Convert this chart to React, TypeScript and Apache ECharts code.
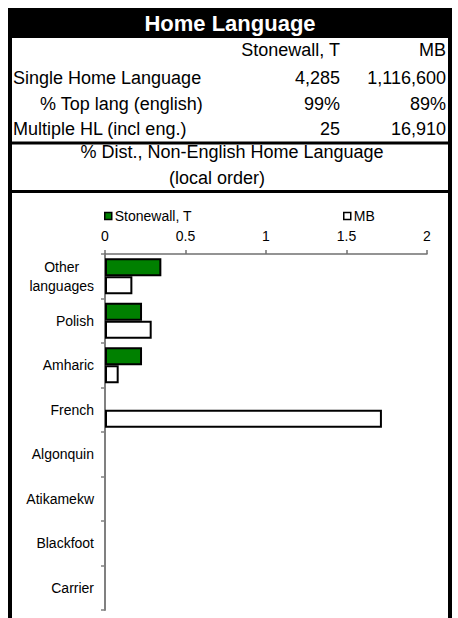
import React, { useEffect, useRef } from "react";
import * as echarts from "echarts";

const FONT = "'Liberation Sans', Arial, sans-serif";

const categories = [
  "Other languages",
  "Polish",
  "Amharic",
  "French",
  "Algonquin",
  "Atikamekw",
  "Blackfoot",
  "Carrier",
];
const stonewallValues = [0.35, 0.23, 0.23, 0, 0, 0, 0, 0];
const mbValues = [0.17, 0.29, 0.085, 1.72, 0, 0, 0, 0];
const xTicks = [0, 0.5, 1, 1.5, 2];

const seriesNames = ["Stonewall, T", "MB"];
const tableTitle = "Home Language";
const rowLabels = ["Single Home Language", "% Top lang (english)", "Multiple HL (incl eng.)"];
const stonewallStats = ["4,285", "99%", "25"];
const mbStats = ["1,116,600", "89%", "16,910"];
const chartTitleLines = ["% Dist., Non-English Home Language", "(local order)"];

export default function App() {
  const ref = useRef<HTMLDivElement>(null);

  useEffect(() => {
    if (!ref.current) return;
    const chart = echarts.init(ref.current, null, { renderer: "svg" });

    const rowY = [78, 104, 129];
    const rowX = [13, 40, 13];
    const graphics: any[] = [
      { type: "rect", shape: { x: 8, y: 8, width: 444, height: 30 }, style: { fill: "#000" }, silent: true },
      { type: "rect", shape: { x: 8, y: 8, width: 4, height: 610 }, style: { fill: "#000" }, silent: true },
      { type: "rect", shape: { x: 448, y: 8, width: 4, height: 610 }, style: { fill: "#000" }, silent: true },
      { type: "rect", shape: { x: 8, y: 141.5, width: 444, height: 3 }, style: { fill: "#000" }, silent: true },
      { type: "rect", shape: { x: 8, y: 190, width: 444, height: 3 }, style: { fill: "#000" }, silent: true },
      {
        type: "text",
        x: 230,
        y: 23,
        style: { text: tableTitle, fill: "#fff", font: `bold 22px ${FONT}`, textAlign: "center", textVerticalAlign: "middle" },
      },
      {
        type: "text",
        x: 340,
        y: 50,
        style: { text: seriesNames[0], fill: "#000", font: `18px ${FONT}`, textAlign: "right", textVerticalAlign: "middle" },
      },
      {
        type: "text",
        x: 446,
        y: 50,
        style: { text: seriesNames[1], fill: "#000", font: `18px ${FONT}`, textAlign: "right", textVerticalAlign: "middle" },
      },
      {
        type: "text",
        x: 232,
        y: 152,
        style: { text: chartTitleLines[0], fill: "#000", font: `18px ${FONT}`, textAlign: "center", textVerticalAlign: "middle" },
      },
      {
        type: "text",
        x: 217,
        y: 178,
        style: { text: chartTitleLines[1], fill: "#000", font: `18px ${FONT}`, textAlign: "center", textVerticalAlign: "middle" },
      },
    ];
    rowLabels.forEach((label, i) => {
      graphics.push({
        type: "text",
        x: rowX[i],
        y: rowY[i],
        style: { text: label, fill: "#000", font: `18px ${FONT}`, textAlign: "left", textVerticalAlign: "middle" },
      });
      graphics.push({
        type: "text",
        x: 340,
        y: rowY[i],
        style: { text: stonewallStats[i], fill: "#000", font: `18px ${FONT}`, textAlign: "right", textVerticalAlign: "middle" },
      });
      graphics.push({
        type: "text",
        x: 446,
        y: rowY[i],
        style: { text: mbStats[i], fill: "#000", font: `18px ${FONT}`, textAlign: "right", textVerticalAlign: "middle" },
      });
    });

    const toData = (arr: number[]) => arr.map((v) => (v === 0 ? "-" : v));

    chart.setOption({
      animation: false,
      backgroundColor: "#fff",
      textStyle: { fontFamily: FONT },
      graphic: graphics,
      legend: [
        {
          data: [seriesNames[0]],
          left: 99,
          top: 204,
          icon: "rect",
          itemWidth: 7,
          itemHeight: 7,
          itemGap: 5,
          textStyle: { fontSize: 14, color: "#000", fontFamily: FONT, padding: [0, 0, 0, -2] },
          itemStyle: { borderColor: "#000", borderWidth: 1.5 },
        },
        {
          data: [seriesNames[1]],
          left: 338,
          top: 204,
          icon: "rect",
          itemWidth: 7,
          itemHeight: 7,
          itemGap: 5,
          textStyle: { fontSize: 14, color: "#000", fontFamily: FONT, padding: [0, 0, 0, -2] },
          itemStyle: { borderColor: "#000", borderWidth: 1.5 },
        },
      ],
      grid: { left: 105, right: 31, top: 254, bottom: 8, containLabel: false },
      xAxis: {
        type: "value",
        position: "top",
        min: xTicks[0],
        max: xTicks[xTicks.length - 1],
        interval: 0.5,
        axisLine: { show: true, lineStyle: { color: "#707070", width: 1.5 } },
        axisTick: { show: true, length: 4, lineStyle: { color: "#707070", width: 1.5 } },
        axisLabel: { fontSize: 14, color: "#000", fontFamily: FONT, margin: 11 },
        splitLine: { show: false },
      },
      yAxis: {
        type: "category",
        inverse: true,
        data: categories,
        axisLine: { show: true, lineStyle: { color: "#808080", width: 2 } },
        axisTick: { show: true, length: 4, lineStyle: { color: "#808080", width: 1.5 } },
        axisLabel: {
          margin: 11,
          formatter: (v: string) => `{c|${v.replace(" ", "\n")}}`,
          rich: {
            c: { fontSize: 14, color: "#000", fontFamily: FONT, lineHeight: 19, align: "center" },
          },
        },
      },
      series: [
        {
          name: seriesNames[0],
          type: "bar",
          data: toData(stonewallValues),
          barGap: "0%",
          barCategoryGap: "19%",
          itemStyle: { color: "#008000", borderColor: "#000", borderWidth: 2 },
        },
        {
          name: seriesNames[1],
          type: "bar",
          data: toData(mbValues),
          barGap: "0%",
          barCategoryGap: "19%",
          itemStyle: { color: "#fff", borderColor: "#000", borderWidth: 2 },
        },
      ],
    });

    return () => chart.dispose();
  }, []);

  return (
    <div
      ref={ref}
      style={{ position: "absolute", left: 0, top: 0, width: 458, height: 618 }}
    />
  );
}
